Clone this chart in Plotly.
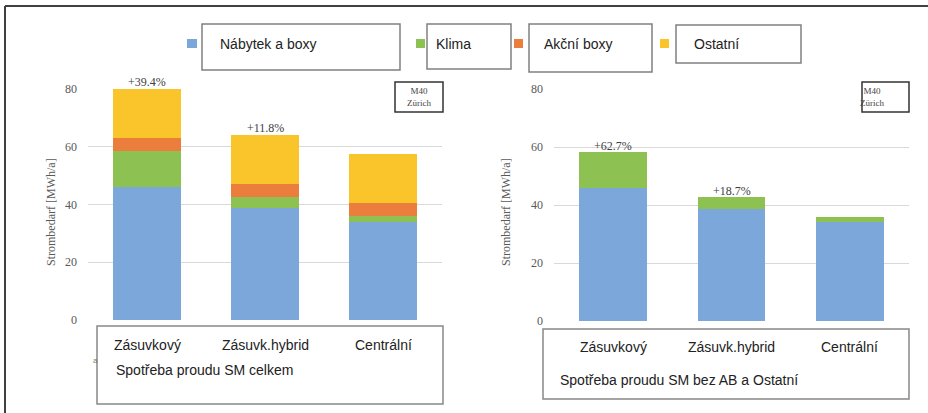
import plotly.graph_objects as go

# ---- data ----
categories = ["Zásuvkový", "Zásuvk.hybrid", "Centrální"]
nabytek = [45.9, 38.7, 34.1]
klima = [12.5, 3.9, 1.8]
akcni = [4.6, 4.5, 4.5]
ostatni = [17.0, 17.1, 17.0]
pct_total = ["+39.4%", "+11.8%", ""]
pct_reduced = ["+62.7%", "+18.7%", ""]
series_names = ["Nábytek a boxy", "Klima", "Akční boxy", "Ostatní"]
y_ticks = [0, 20, 40, 60, 80]
caption_left = "Spotřeba proudu SM celkem"
caption_right = "Spotřeba proudu SM bez AB a Ostatní"
y_title = "Strombedarf [MWh/a]"
site_label = "M40<br>Zürich"

# ---- style ----
W, H = 928, 413
colors = ["#7BA7DA", "#8DC152", "#EB7E3C", "#F9C52A"]
serif = "Liberation Serif"
sans = "Liberation Sans"


def px(x):
    return x / W


def py(y):
    return 1 - y / H


fig = go.Figure()

left_series = [nabytek, klima, akcni, ostatni]
for name, vals, col in zip(series_names, left_series, colors):
    fig.add_trace(go.Bar(x=categories, y=vals, name=name, marker_color=col,
                         marker_line_width=0, xaxis="x", yaxis="y",
                         showlegend=False, hoverinfo="skip"))
for name, vals, col in zip(series_names[:2], left_series[:2], colors[:2]):
    fig.add_trace(go.Bar(x=categories, y=vals, name=name, marker_color=col,
                         marker_line_width=0, xaxis="x2", yaxis="y2",
                         showlegend=False, hoverinfo="skip"))

totals_left = [a + b + c + d for a, b, c, d in zip(nabytek, klima, akcni, ostatni)]
totals_right = [a + b for a, b in zip(nabytek, klima)]

annotations = []
shapes = []

# percentage labels above bars
for cat, tot, lab in zip(categories, totals_left, pct_total):
    if lab:
        annotations.append(dict(x=cat, y=tot, xref="x", yref="y", text=lab,
                                showarrow=False, yanchor="bottom", yshift=-2,
                                font=dict(family=serif, size=12, color="#404040")))
for cat, tot, lab in zip(categories, totals_right, pct_reduced):
    if lab:
        annotations.append(dict(x=cat, y=tot, xref="x2", yref="y2", text=lab,
                                showarrow=False, yanchor="bottom", yshift=-3,
                                font=dict(family=serif, size=12, color="#404040")))

# category labels inside the boxes below the plots
for xr, ylab in (("x", 345), ("x2", 347)):
    for cat in categories:
        annotations.append(dict(x=cat, y=py(ylab), xref=xr, yref="paper", text=cat,
                                showarrow=False, yanchor="middle",
                                font=dict(family=sans, size=14, color="#222")))

# captions
annotations.append(dict(x=px(114), y=py(370), xref="paper", yref="paper",
                        text=caption_left, showarrow=False, xanchor="left",
                        yanchor="middle", font=dict(family=sans, size=14, color="#222")))
annotations.append(dict(x=px(558), y=py(380), xref="paper", yref="paper",
                        text=caption_right, showarrow=False, xanchor="left",
                        yanchor="middle", font=dict(family=sans, size=14, color="#222")))
annotations.append(dict(x=px(91), y=py(367), xref="paper", yref="paper",
                        text="a", showarrow=False, font=dict(family=sans, size=8, color="#777")))

# y titles
for xpos in (42, 506):
    annotations.append(dict(x=px(xpos), y=py(212), xref="paper", yref="paper",
                            text=y_title, textangle=-90, showarrow=False,
                            font=dict(family=serif, size=12, color="#595959")))

# site label boxes
for x0, x1 in ((395, 443), (862, 909)):
    shapes.append(dict(type="rect", xref="paper", yref="paper",
                       x0=px(x0), x1=px(x1), y0=py(112), y1=py(82),
                       line=dict(color="#333", width=1.5)))
    annotations.append(dict(x=px((x0 + x1) / 2), y=py(97), xref="paper", yref="paper",
                            text=site_label, showarrow=False, yanchor="middle",
                            font=dict(family=serif, size=9, color="#444")))

# category boxes
shapes.append(dict(type="rect", xref="paper", yref="paper", x0=px(97), x1=px(443),
                   y0=py(404), y1=py(326), line=dict(color="#888", width=1.5)))
shapes.append(dict(type="rect", xref="paper", yref="paper", x0=px(543), x1=px(909),
                   y0=py(399), y1=py(329), line=dict(color="#888", width=1.5)))

# legend boxes: (box x0, x1, y0, y1, marker x0, x1, text x)
legend_geo = [
    (202, 400, 24, 70, 187, 197, 218),
    (427, 511, 24, 69, 416, 425, 434),
    (529, 652, 24, 72, 514, 523, 542),
    (676, 801, 25, 63, 660, 669, 692),
]
for (bx0, bx1, by0, by1, mx0, mx1, tx), name, col in zip(legend_geo, series_names, colors):
    shapes.append(dict(type="rect", xref="paper", yref="paper", x0=px(bx0), x1=px(bx1),
                       y0=py(by1), y1=py(by0), line=dict(color="#808080", width=1.5)))
    shapes.append(dict(type="rect", xref="paper", yref="paper", x0=px(mx0), x1=px(mx1),
                       y0=py(48), y1=py(39), line=dict(width=0), fillcolor=col))
    annotations.append(dict(x=px(tx), y=py(44), xref="paper", yref="paper", text=name,
                            showarrow=False, xanchor="left", yanchor="middle",
                            font=dict(family=sans, size=14, color="#222")))

# outer frame (top and left visible)
shapes.append(dict(type="line", xref="paper", yref="paper", x0=px(5), x1=1.01,
                   y0=py(6), y1=py(6), line=dict(color="#404040", width=2)))
shapes.append(dict(type="line", xref="paper", yref="paper", x0=px(5), x1=px(5),
                   y0=py(6), y1=-0.01, line=dict(color="#404040", width=2)))

yaxis_common = dict(range=[0, 80], tickvals=y_ticks, showgrid=True, gridcolor="#D9D9D9",
                    gridwidth=1, zeroline=False, showline=False, ticks="",
                    ticklabelstandoff=10, automargin=False,
                    tickfont=dict(family=serif, size=12, color="#595959"),
                    fixedrange=True)
xaxis_common = dict(showticklabels=False, showgrid=False, zeroline=False, showline=False,
                    ticks="", fixedrange=True, automargin=False)

fig.update_layout(
    width=W, height=H, autosize=False,
    margin=dict(l=0, r=0, t=0, b=0, autoexpand=False),
    paper_bgcolor="white", plot_bgcolor="white",
    barmode="stack", bargap=0.43,
    showlegend=False,
    xaxis=dict(domain=[px(88), px(442)], anchor="y", **xaxis_common),
    yaxis=dict(domain=[py(320), py(89)], anchor="x", **yaxis_common),
    xaxis2=dict(domain=[px(554), px(909)], anchor="y2", **xaxis_common),
    yaxis2=dict(domain=[py(321), py(89)], anchor="x2", **yaxis_common),
    annotations=annotations,
    shapes=shapes,
)

fig.write_html(
    "out.html",
    config={"displayModeBar": False},
    post_script="document.body.style.margin='0';document.body.style.overflow='hidden';",
)
